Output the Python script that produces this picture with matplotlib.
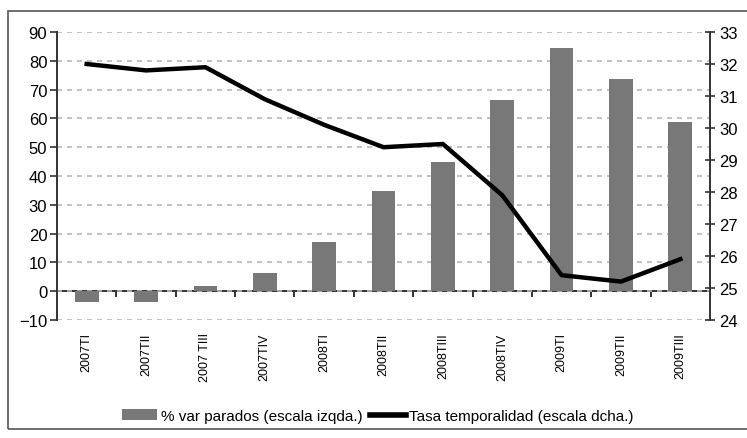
import matplotlib.pyplot as plt
from matplotlib.patches import Rectangle

# datos
trimestres = ['2007TI', '2007TII', '2007 TIII', '2007TIV', '2008TI', '2008TII',
              '2008TIII', '2008TIV', '2009TI', '2009TII', '2009TIII']
var_parados = [-3.8, -3.8, 1.7, 6.2, 17.0, 34.8, 44.8, 66.3, 84.4, 73.6, 58.7]
tasa_temporalidad = [32.0, 31.8, 31.9, 30.9, 30.1, 29.4, 29.5, 27.9, 25.4, 25.2, 25.9]

plt.rcParams['font.family'] = ['Liberation Sans', 'DejaVu Sans']

fig = plt.figure(figsize=(7.47, 4.39), dpi=100)
ax = fig.add_axes([0.0763, 0.2688, 0.8742, 0.656])

x = list(range(len(trimestres)))
ax.bar(x, var_parados, width=0.4, color='#787878', label='% var parados (escala izqda.)', zorder=3)
ax.set_xlim(-0.5, len(trimestres) - 0.5)
ax.set_ylim(-10, 90)
ax.set_yticks(range(-10, 91, 10))
ax.tick_params(axis='y', labelsize=12, length=5, width=1.2, direction='out', color='#333333', pad=2)
ax.yaxis.grid(True, color='#b8b8b8', linestyle=(0, (3, 3)), linewidth=1.2, zorder=0)

ax.set_xticks(x)
ax.set_xticklabels(trimestres, rotation=90, fontsize=9)
ax.tick_params(axis='x', length=0, pad=9)

for s in ['top', 'right', 'bottom']:
    ax.spines[s].set_visible(False)
ax.spines['left'].set_linewidth(1.4)
ax.spines['left'].set_color('#333333')

# eje en el cero con marcas entre trimestres
sec = ax.secondary_xaxis(0.1)
sec.set_xticks([i + 0.5 for i in x[:-1]])
sec.set_xticklabels([])
sec.tick_params(axis='x', direction='out', length=4, width=1.4, color='#333333')
sec.spines['bottom'].set_linewidth(1.4)
sec.spines['bottom'].set_color('#333333')

ax2 = ax.twinx()
ax2.plot(x, tasa_temporalidad, color='black', linewidth=3.2, label='Tasa temporalidad (escala dcha.)', zorder=4)
ax2.set_ylim(24, 33)
ax2.set_yticks(range(24, 34))
ax2.tick_params(axis='y', labelsize=12, length=7, width=1.2, direction='inout', color='#333333', pad=3)
for s in ['top', 'left', 'bottom']:
    ax2.spines[s].set_visible(False)
ax2.spines['right'].set_linewidth(1.4)
ax2.spines['right'].set_color('#333333')

h1, l1 = ax.get_legend_handles_labels()
h2, l2 = ax2.get_legend_handles_labels()
leg = fig.legend(h1 + h2, l1 + l2, loc='center', bbox_to_anchor=(0.506, 0.05), ncol=2,
                 frameon=False, handlelength=2.3, handleheight=0.75, handletextpad=0.25,
                 columnspacing=0.5, prop={'size': 11})
leg.get_lines()[0].set_linewidth(4)

# marco exterior
fig.patches.append(Rectangle((8 / 747, 9 / 439), 745 / 747, 418 / 439, transform=fig.transFigure,
                             fill=False, edgecolor='#555555', linewidth=1.2))

fig.savefig('out.png', dpi=100)
